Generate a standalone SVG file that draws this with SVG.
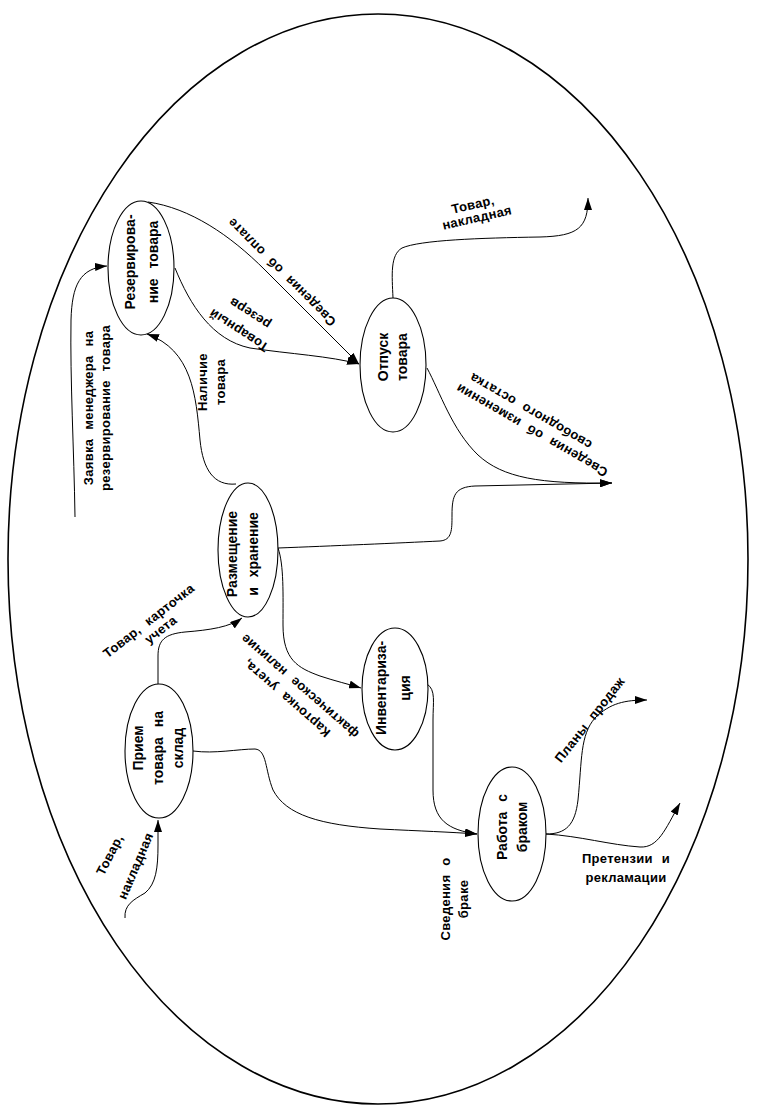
<svg xmlns="http://www.w3.org/2000/svg" width="774" height="1118" viewBox="0 0 774 1118">
<style>
.frame{fill:none;stroke:#000;stroke-width:1.6}
.node ellipse{fill:#fff;stroke:#000;stroke-width:1.1}
.node text{font-family:"Liberation Sans",Arial,sans-serif;font-weight:bold;font-size:14px;word-spacing:6px;fill:#000}
.conn path{fill:none;stroke:#000;stroke-width:1}
.lbl text{font-family:"Liberation Sans",Arial,sans-serif;font-weight:bold;font-size:13px;letter-spacing:0.3px;word-spacing:5px;fill:#000}
</style>
<defs>
<marker id="arr" viewBox="0 0 12 8" refX="12" refY="4" markerWidth="12" markerHeight="8" orient="auto" markerUnits="userSpaceOnUse"><path d="M0,0 L12,4 L0,8 z" fill="#000"/></marker>
</defs>
<rect width="774" height="1118" fill="#fff"/>
<ellipse class="frame" cx="378" cy="559" rx="370" ry="545"/>

<g class="conn" id="connectors">
<path marker-end="url(#arr)" d="M75,517 C74,450 70,380 71,320 C72,285 80,268 107,266"/>
<path marker-end="url(#arr)" d="M236,484 C214,486 203,470 200,440 C196,395 192,350 147,334"/>
<path marker-end="url(#arr)" d="M148,202 C190,208 230,235 265,270 L359,364"/>
<path marker-end="url(#arr)" d="M175,268 C190,305 212,340 250,348 C290,354 330,356 359,364"/>
<path marker-end="url(#arr)" d="M158,684 L158,656 C158,640 165,634 185,632 C210,630 230,627 242,618"/>
<path marker-end="url(#arr)" d="M278,548 C284,565 283,595 283,625 C283,660 298,668 320,676 C335,681 348,684 361,688"/>
<path marker-end="url(#arr)" d="M278,548 C330,546 400,543 440,541 C452,540 452,530 452,515 C452,495 455,487 475,486 L612,483"/>
<path marker-end="url(#arr)" d="M427,368 C440,392 452,430 478,455 C503,478 540,484 612,483"/>
<path marker-end="url(#arr)" d="M393,298 C392,275 390,255 402,248 C420,240 480,238 540,237 C578,236 588,228 588,198"/>
<path marker-end="url(#arr)" d="M125,918 C124,905 133,900 145,893 C156,884 158,868 158,845 L158,820"/>
<path marker-end="url(#arr)" d="M193,751 C215,754 238,749 255,749 C267,750 265,770 273,790 C286,815 320,825 380,829 C420,831 450,832 477,834"/>
<path marker-end="url(#arr)" d="M427,684 C436,690 433,702 433,720 L433,790 C433,820 448,830 477,834"/>
<path marker-end="url(#arr)" d="M546,834 C566,834 575,825 578,800 C582,760 580,735 595,718 C610,703 625,700 647,700"/>
<path marker-end="url(#arr)" d="M546,834 C580,836 610,845 640,847 C658,848 665,830 680,803"/>
</g>

<g class="lbl" id="labels">
<text transform="translate(100,408) rotate(-90)" text-anchor="middle"><tspan x="0" y="-7">Заявка менеджера на</tspan><tspan x="0" y="10">резервирование товара</tspan></text>
<text transform="translate(210,382) rotate(-90)" text-anchor="middle"><tspan x="0" y="-3">Наличие</tspan><tspan x="0" y="15">товара</tspan></text>
<text transform="translate(282,272) rotate(-135)" text-anchor="middle" y="4">Сведения об оплате</text>
<text transform="translate(239,330) rotate(-147)" text-anchor="middle" y="4">Товарный</text>
<text transform="translate(250,313) rotate(-147)" text-anchor="middle" y="4">резерв</text>
<text transform="translate(473,205) rotate(-13)" text-anchor="middle" y="4">Товар,</text>
<text transform="translate(477,218) rotate(-13)" text-anchor="middle" y="4">накладная</text>
<text transform="translate(532,430) rotate(-150)" text-anchor="middle" y="4">Сведения об изменении</text>
<text transform="translate(531,411) rotate(-150)" text-anchor="middle" y="4">свободного остатка</text>
<text transform="translate(149,621) rotate(-38)" text-anchor="middle" y="4">Товар, карточка</text>
<text transform="translate(161,630) rotate(-38)" text-anchor="middle" y="4">учета</text>
<text transform="translate(287,698) rotate(-139)" text-anchor="middle" y="4">Карточка учета,</text>
<text transform="translate(300,686) rotate(-139)" text-anchor="middle" y="4">фактическое наличие</text>
<text transform="translate(590,720) rotate(-52)" text-anchor="middle" y="4">Планы продаж</text>
<text x="626" y="863" text-anchor="middle">Претензии и</text>
<text x="626" y="882" text-anchor="middle">рекламации</text>
<text transform="translate(455,899) rotate(-90)" text-anchor="middle"><tspan x="0" y="-5">Сведения о</tspan><tspan x="0" y="13">браке</tspan></text>
<text transform="translate(110,855) rotate(-63)" text-anchor="middle" y="4">Товар,</text>
<text transform="translate(136,866) rotate(-67)" text-anchor="middle" y="4">накладная</text>
</g>

<g class="node" id="n-reserve"><ellipse cx="141" cy="268" rx="33" ry="67"/><text transform="translate(141,262) rotate(-90)" text-anchor="middle"><tspan x="0" y="-6">Резервирова-</tspan><tspan x="0" y="17">ние товара</tspan></text></g>
<g class="node" id="n-release"><ellipse cx="393" cy="365" rx="33" ry="67"/><text transform="translate(393,357) rotate(-90)" text-anchor="middle"><tspan x="0" y="-5">Отпуск</tspan><tspan x="0" y="14">товара</tspan></text></g>
<g class="node" id="n-storage"><ellipse cx="248" cy="550" rx="30" ry="67"/><text transform="translate(248,554) rotate(-90)" text-anchor="middle"><tspan x="0" y="-11">Размещение</tspan><tspan x="0" y="10">и хранение</tspan></text></g>
<g class="node" id="n-inventory"><ellipse cx="395" cy="689" rx="33" ry="61"/><text transform="translate(395,688) rotate(-90)" text-anchor="middle"><tspan x="0" y="-9">Инвентариза-</tspan><tspan x="0" y="15">ция</tspan></text></g>
<g class="node" id="n-receive"><ellipse cx="159" cy="751" rx="34" ry="67"/><text transform="translate(159,748) rotate(-90)" text-anchor="middle"><tspan x="0" y="-16">Прием</tspan><tspan x="0" y="4">товара на</tspan><tspan x="0" y="24">склад</tspan></text></g>
<g class="node" id="n-defect"><ellipse cx="512" cy="834" rx="34" ry="67"/><text transform="translate(512,827) rotate(-90)" text-anchor="middle"><tspan x="0" y="-5">Работа с</tspan><tspan x="0" y="15">браком</tspan></text></g>
</svg>
